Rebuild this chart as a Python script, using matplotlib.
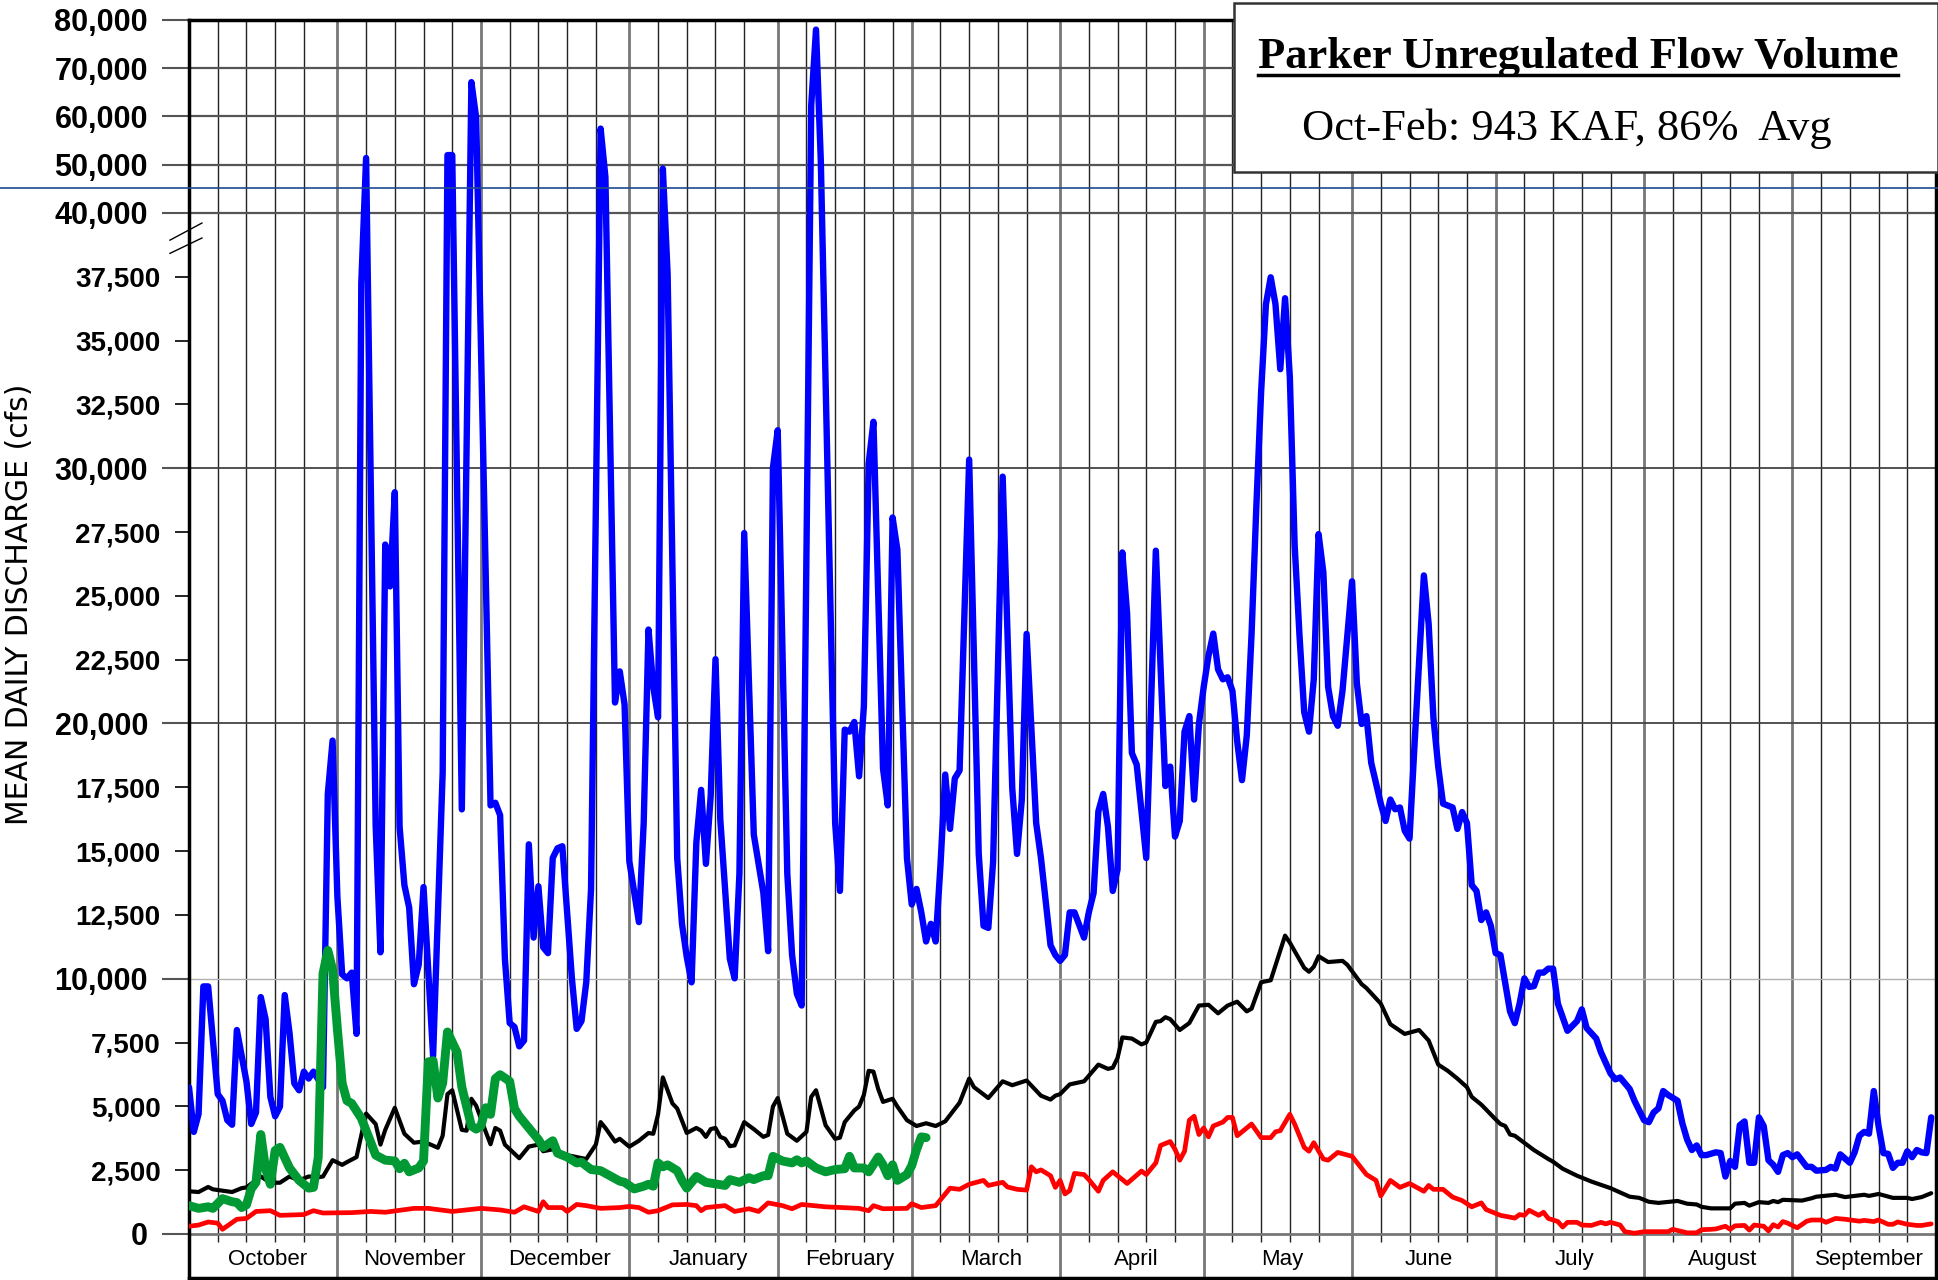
import numpy as np
import matplotlib
matplotlib.use('Agg')
import matplotlib.pyplot as plt
from matplotlib import font_manager
from matplotlib.lines import Line2D
from matplotlib.patches import Rectangle
from matplotlib.ticker import FixedLocator, FuncFormatter

W, H, DPI = 1938, 1280, 100

# ---- data (day of water year, mean daily cfs) ----
months = ['October', 'November', 'December', 'January', 'February', 'March',
          'April', 'May', 'June', 'July', 'August', 'September']
month_len = [31, 30, 31, 31, 28, 31, 30, 31, 30, 31, 31, 30]

max_pts = [(0, 5750), (1, 4000), (2, 4700), (3, 9700), (4, 9700), (6, 5480), (7, 5220), (8, 4460),
           (9, 4280), (10, 7990), (12, 5980), (13, 4310), (14, 4760), (15, 9280), (16, 8420), (17, 5370),
           (18, 4610), (19, 4990), (20, 9360), (21, 7880), (22, 5900), (23, 5630), (24, 6360), (25, 6090),
           (26, 6360), (28, 5750), (29, 17240), (30, 19330), (31, 13210), (32, 10170), (33, 10015),
           (34, 10240), (35, 7840), (36, 37260), (37, 51390), (39, 16000), (40, 11035), (41, 27010),
           (42, 25370), (43, 29060), (44, 15950), (45, 13670), (46, 12785), (47, 9786), (48, 10550),
           (49, 13590), (51, 6970), (53, 18080), (54, 52000), (55, 52000), (57, 16635), (59, 67120),
           (60, 59690), (63, 16790), (64, 16894), (65, 16407), (66, 10776), (67, 8264), (68, 8112),
           (69, 7351), (70, 7580), (71, 15266), (72, 11613), (73, 13622), (74, 11232), (75, 11004),
           (76, 14733), (77, 15113), (78, 15190), (80, 10015), (81, 8036), (82, 8341), (83, 9863),
           (84, 13515), (86, 57490), (87, 47450), (89, 20821), (90, 22040), (91, 20745), (92, 14600),
           (94, 12220), (95, 16100), (96, 23680), (97, 21430), (98, 20240), (99, 49200), (100, 37590),
           (102, 14730), (103, 12150), (104, 10850), (105, 9860), (106, 15340), (107, 17400),
           (108, 14500), (109, 17170), (110, 22520), (111, 16250), (113, 10780), (114, 10015),
           (115, 14120), (116, 27460), (118, 15650), (120, 13360), (121, 11080), (122, 30010),
           (123, 31490), (125, 14120), (126, 10930), (127, 9410), (128, 8950), (130, 62300),
           (131, 78010), (132, 50940), (135, 16100), (136, 13440), (137, 19760), (138, 19680),
           (139, 20060), (140, 17930), (141, 20670), (142, 30180), (143, 31820), (145, 18230),
           (146, 16790), (147, 28070), (148, 26800), (150, 14730), (151, 12910), (152, 13520),
           (153, 12600), (154, 11460), (155, 12150), (156, 11460), (157, 14430), (158, 18000),
           (159, 15870), (160, 17850), (161, 18160), (163, 30340), (165, 14890), (166, 12070),
           (167, 11990), (168, 14580), (170, 29670), (172, 17470), (173, 14890), (174, 17020),
           (175, 23510), (177, 16100), (178, 14730), (180, 11310), (181, 10930), (182, 10700),
           (183, 10930), (184, 12600), (185, 12600), (187, 11610), (188, 12600), (189, 13360),
           (190, 16560), (191, 17240), (192, 15950), (193, 13440), (194, 14280), (195, 26700),
           (196, 24300), (197, 18840), (198, 18390), (200, 14730), (202, 26770), (204, 17550),
           (205, 18310), (206, 15570), (207, 16180), (208, 19680), (209, 20290), (210, 17020),
           (211, 19980), (212, 21430), (213, 22650), (214, 23520), (215, 22120), (216, 21730),
           (217, 21810), (218, 21280), (219, 19300), (220, 17780), (221, 19530), (222, 23500),
           (223, 28500), (224, 33000), (225, 36420), (226, 37480), (227, 36420), (228, 33880),
           (229, 36660), (230, 33560), (231, 27000), (232, 23500), (233, 20440), (234, 19680),
           (235, 21730), (236, 27420), (237, 25920), (238, 21430), (239, 20290), (240, 19910),
           (241, 21280), (243, 25570), (244, 21580), (245, 19980), (246, 20290), (247, 18460),
           (249, 16860), (250, 16180), (251, 17020), (252, 16640), (253, 16710), (254, 15800),
           (255, 15490), (256, 19000), (258, 25800), (259, 23900), (260, 20210), (261, 18310),
           (262, 16860), (264, 16710), (265, 15870), (266, 16530), (267, 16100), (268, 13670),
           (269, 13440), (270, 12300), (271, 12600), (272, 12070), (273, 11000), (274, 10930),
           (276, 8720), (277, 8260), (278, 9025), (279, 10015), (280, 9680), (281, 9710),
           (282, 10240), (283, 10240), (284, 10395), (285, 10395), (286, 9025), (288, 7960),
           (290, 8340), (291, 8800), (292, 8070), (294, 7660), (295, 7120), (297, 6290), (298, 6060),
           (299, 6130), (301, 5680), (302, 5220), (304, 4460), (305, 4380), (306, 4760), (307, 4920),
           (308, 5600), (309, 5450), (311, 5220), (312, 4340), (313, 3700), (314, 3290), (315, 3470),
           (316, 3090), (317, 3090), (319, 3200), (320, 3170), (321, 2250), (322, 2860), (323, 2630),
           (324, 4260), (325, 4410), (326, 2790), (327, 2790), (328, 4570), (329, 4230), (330, 2890),
           (331, 2710), (332, 2435), (333, 3090), (334, 3170), (335, 3010), (336, 3120), (338, 2630),
           (339, 2630), (340, 2480), (342, 2510), (343, 2630), (344, 2560), (345, 3120), (347, 2790),
           (348, 3200), (349, 3850), (350, 4000), (351, 3930), (352, 5600), (353, 4230), (354, 3170),
           (355, 3140), (356, 2590), (357, 2790), (358, 2790), (359, 3240), (360, 3010), (361, 3290),
           (362, 3200), (363, 3170), (364, 4570)]

avg_pts = [(0, 1674), (2, 1644), (4, 1842), (5, 1750), (9, 1644), (11, 1796), (12, 1826), (15, 2253),
           (17, 2009), (19, 2009), (21, 2253), (23, 2100), (25, 2253), (27, 2222), (28, 2253),
           (30, 2892), (32, 2709), (33, 2816), (35, 3014), (37, 4718), (39, 4307), (40, 3501),
           (41, 4079), (43, 4946), (45, 3927), (47, 3577), (49, 3622), (52, 3379), (53, 3850),
           (54, 5479), (55, 5631), (57, 4079), (58, 4048), (59, 5297), (60, 5023), (62, 4003),
           (63, 3516), (64, 4155), (65, 4048), (66, 3501), (69, 2968), (71, 3425), (73, 3501),
           (74, 3242), (76, 3318), (79, 3090), (83, 2937), (85, 3501), (86, 4383), (87, 4155),
           (89, 3622), (90, 3729), (92, 3420), (94, 3653), (96, 3957), (97, 3927), (98, 4688),
           (99, 6134), (101, 5114), (102, 4916), (104, 3957), (106, 4155), (107, 4048), (108, 3805),
           (109, 4109), (110, 4155), (111, 3805), (112, 3729), (113, 3440), (114, 3470), (116, 4383),
           (118, 4109), (120, 3805), (121, 3881), (122, 4992), (123, 5327), (125, 3927), (127, 3653),
           (129, 4003), (130, 5373), (131, 5631), (133, 4261), (135, 3729), (136, 3775), (137, 4383),
           (139, 4840), (140, 4992), (141, 5449), (142, 6392), (143, 6362), (144, 5677), (145, 5175),
           (147, 5297), (148, 4992), (150, 4459), (152, 4231), (154, 4338), (156, 4231), (158, 4414),
           (161, 5144), (163, 6088), (164, 5753), (167, 5327), (170, 5981), (172, 5829), (175, 6012),
           (178, 5418), (180, 5266), (181, 5418), (182, 5479), (184, 5860), (187, 5981), (190, 6636),
           (192, 6468), (193, 6514), (194, 6895), (195, 7701), (197, 7656), (199, 7428), (200, 7504),
           (202, 8310), (203, 8341), (204, 8493), (205, 8417), (207, 7991), (209, 8265), (211, 8949),
           (213, 8980), (215, 8645), (217, 8949), (219, 9101), (221, 8721), (222, 8828), (224, 9863),
           (226, 9939), (229, 11689), (230, 11415), (233, 10426), (234, 10274), (235, 10471),
           (236, 10882), (238, 10654), (241, 10700), (242, 10548), (245, 9787), (246, 9634),
           (249, 9025), (251, 8219), (254, 7838), (257, 7991), (259, 7580), (261, 6636), (263, 6392),
           (265, 6088), (267, 5753), (268, 5373), (270, 5068), (273, 4490), (274, 4307), (275, 4231),
           (276, 3896), (277, 3850), (280, 3425), (281, 3288), (284, 2937), (285, 2831), (287, 2557),
           (290, 2283), (293, 2055), (297, 1796), (301, 1461), (303, 1415), (305, 1263), (307, 1218),
           (311, 1294), (313, 1187), (315, 1157), (316, 1065), (318, 1004), (322, 1004), (323, 1187),
           (325, 1218), (326, 1111), (328, 1248), (330, 1218), (331, 1294), (332, 1248), (333, 1339),
           (337, 1309), (339, 1400), (340, 1461), (344, 1537), (346, 1446), (350, 1537), (351, 1492),
           (353, 1568), (356, 1415), (359, 1415), (360, 1370), (362, 1446), (364, 1598)]

min_pts = [(0, 304), (2, 350), (4, 470), (6, 426), (7, 183), (10, 578), (12, 609), (14, 883), (17, 913),
           (19, 731), (24, 761), (26, 913), (28, 822), (34, 837), (38, 883), (41, 852), (47, 1004),
           (50, 1004), (55, 883), (58, 943), (61, 1004), (65, 943), (68, 852), (70, 1065), (73, 883),
           (74, 1263), (75, 1035), (78, 1035), (79, 883), (81, 1157), (83, 1111), (86, 1004),
           (90, 1035), (92, 1080), (94, 1035), (96, 852), (98, 913), (101, 1141), (104, 1157),
           (106, 1111), (107, 913), (108, 1035), (112, 1111), (114, 883), (117, 989), (119, 883),
           (121, 1218), (124, 1111), (126, 989), (128, 1157), (133, 1065), (140, 1004), (142, 913),
           (143, 1111), (145, 989), (150, 1004), (151, 1187), (153, 1035), (156, 1111), (159, 1796),
           (161, 1750), (163, 1948), (166, 2100), (167, 1902), (170, 2024), (171, 1842), (173, 1750),
           (175, 1720), (176, 2633), (177, 2435), (178, 2511), (180, 2283), (181, 1826), (182, 2100),
           (183, 1568), (184, 1700), (185, 2374), (187, 2329), (188, 2131), (190, 1674), (191, 2100),
           (193, 2435), (196, 1979), (199, 2466), (200, 2329), (202, 2785), (203, 3470), (205, 3622),
           (206, 3318), (207, 2892), (208, 3242), (209, 4459), (210, 4612), (211, 3896), (212, 4155),
           (213, 3805), (214, 4231), (216, 4383), (217, 4566), (218, 4566), (219, 3850), (222, 4307),
           (224, 3775), (226, 3775), (227, 4003), (228, 4048), (230, 4688), (231, 4307), (233, 3394),
           (234, 3242), (235, 3577), (237, 2937), (238, 2892), (240, 3196), (243, 3044), (246, 2329),
           (248, 2100), (249, 1492), (251, 2100), (253, 1826), (255, 1979), (258, 1674), (259, 1902),
           (260, 1750), (262, 1750), (264, 1446), (266, 1309), (268, 1065), (270, 1218), (271, 959),
           (274, 731), (277, 624), (278, 761), (279, 731), (280, 928), (282, 731), (283, 852),
           (284, 609), (286, 487), (287, 274), (288, 457), (290, 457), (291, 350), (293, 335),
           (295, 457), (296, 396), (297, 457), (299, 350), (300, 91), (302, 30), (304, 91), (309, 91),
           (310, 183), (313, 46), (315, 46), (316, 167), (318, 183), (319, 198), (321, 304), (322, 183),
           (323, 320), (325, 335), (326, 152), (327, 350), (329, 304), (330, 122), (331, 365),
           (332, 274), (333, 487), (334, 426), (336, 243), (338, 502), (339, 548), (341, 548),
           (342, 457), (344, 609), (346, 578), (349, 502), (350, 533), (352, 487), (353, 548),
           (355, 380), (356, 380), (357, 472), (359, 380), (361, 335), (362, 335), (364, 396)]

cur_pts = [(0, 1111), (2, 1004), (4, 1065), (5, 1004), (7, 1385), (9, 1263), (10, 1233), (11, 1035),
           (12, 1141), (13, 1766), (14, 2024), (15, 3896), (16, 2557), (17, 1948), (18, 3272),
           (19, 3394), (21, 2587), (23, 2100), (25, 1796), (26, 1826), (27, 3000), (28, 10197),
           (29, 11111), (30, 10350), (31, 8036), (32, 5905), (33, 5221), (34, 5114), (36, 4536),
           (38, 3577), (39, 3090), (41, 2892), (43, 2861), (44, 2557), (45, 2770), (46, 2435),
           (48, 2587), (49, 2861), (50, 6742), (51, 6788), (52, 5327), (53, 5905), (54, 7914),
           (56, 7123), (57, 5753), (59, 4231), (60, 4109), (61, 4231), (62, 4946), (63, 4688),
           (64, 6088), (65, 6240), (67, 5981), (68, 4916), (69, 4612), (71, 4155), (73, 3699),
           (74, 3394), (76, 3653), (77, 3166), (79, 3014), (81, 2785), (82, 2816), (84, 2527),
           (86, 2481), (90, 2070), (91, 2024), (93, 1766), (95, 1872), (96, 1948), (97, 1872),
           (98, 2785), (99, 2633), (100, 2709), (102, 2481), (103, 2100), (104, 1796), (106, 2253),
           (108, 2024), (112, 1902), (113, 2131), (115, 2024), (117, 2207), (118, 2131), (120, 2283),
           (121, 2283), (122, 3044), (124, 2861), (126, 2785), (127, 2907), (128, 2785), (129, 2861),
           (131, 2587), (133, 2435), (135, 2527), (137, 2557), (138, 3044), (139, 2587), (141, 2587),
           (142, 2435), (144, 3014), (145, 2709), (146, 2283), (147, 2709), (148, 2100), (150, 2329),
           (151, 2679), (152, 3300), (153, 3805), (154, 3775)]

major_ticks = [0, 10000, 20000, 30000, 40000, 50000, 60000, 70000, 80000]
minor_ticks = [2500, 5000, 7500, 12500, 15000, 17500, 22500, 25000, 27500, 32500, 35000, 37500]

title = 'Parker Unregulated Flow Volume'
subtitle = 'Oct-Feb: 943 KAF, 86%  Avg'
ylabel = 'MEAN DAILY DISCHARGE (cfs)'


def has_font(name):
    try:
        font_manager.findfont(font_manager.FontProperties(family=name), fallback_to_default=False)
        return True
    except ValueError:
        return False


NARROW = has_font('Liberation Sans Narrow')
SANS = 'Liberation Sans'
SERIF = 'Liberation Serif'

# broken y axis: everything above 40,000 is squeezed
BREAK = 40000
SQUEEZE = 0.189


def fwd(v):
    v = np.asarray(v, dtype=float)
    return np.where(v <= BREAK, v, BREAK + (v - BREAK) * SQUEEZE)


def inv(u):
    u = np.asarray(u, dtype=float)
    return np.where(u <= BREAK, u, BREAK + (u - BREAK) / SQUEEZE)


fig = plt.figure(figsize=(W / DPI, H / DPI), dpi=DPI)
ax = fig.add_axes([189 / W, 2 / H, 1747 / W, 1258 / H])
ax.set_yscale('function', functions=(fwd, inv))
YMIN, YMAX = -1724, 80000
ax.set_xlim(0, 365)
ax.set_ylim(YMIN, YMAX)

# grid
starts = np.cumsum([0] + month_len)
six_day = [s + k for s in starts[:-1] for k in (6, 12, 18, 24)]
ax.vlines(six_day, -320, YMAX, color='#222222', lw=1.0, zorder=1)
ax.vlines(starts[1:-1], YMIN, YMAX, color='#777777', lw=2.0, zorder=1)
ax.hlines([0], 0, 365, color='#777777', lw=2.0, zorder=1)
ax.hlines([10000], 0, 365, color='#b0b0b0', lw=1.0, zorder=1)
ax.hlines([20000, 30000], 0, 365, color='#444444', lw=1.3, zorder=1)
ax.hlines([40000, 50000, 60000, 70000], 0, 365, color='#555555', lw=1.6, zorder=1)

# series
for pts, col, lw, z in [(max_pts, '#0000ff', 4.6, 3), (avg_pts, 'black', 3.0, 4),
                        (min_pts, '#ff0000', 3.4, 5), (cur_pts, '#009933', 6.4, 6)]:
    d, v = zip(*pts)
    ax.plot(d, v, color=col, lw=lw, zorder=z, solid_joinstyle='round', solid_capstyle='round')

# ticks
ax.set_xticks([])
ax.yaxis.set_major_locator(FixedLocator(major_ticks))
ax.yaxis.set_minor_locator(FixedLocator(minor_ticks))
fmt = FuncFormatter(lambda v, p: f'{v:,.0f}')
ax.yaxis.set_major_formatter(fmt)
ax.yaxis.set_minor_formatter(fmt)
ax.tick_params(axis='y', which='major', length=19.5, width=1.5, color='#555555', pad=10)
ax.tick_params(axis='y', which='minor', length=10, width=1.2, color='black', pad=10.5)
for lab in ax.get_yticklabels():
    lab.set_fontfamily(SANS)
    lab.set_fontweight('bold')
    lab.set_fontsize(22)
for lab in ax.get_yticklabels(minor=True):
    lab.set_fontfamily('Liberation Sans Narrow' if NARROW else SANS)
    lab.set_fontweight('bold')
    lab.set_fontsize(24 if NARROW else 20)

for sp in ax.spines.values():
    sp.set_linewidth(2.5)
    sp.set_color('black')

# month names under the zero line
for name, s, n in zip(months, starts[:-1], month_len):
    ax.text(s + n / 2 + 1, -980, name, ha='center', va='center',
            family='Liberation Sans Narrow' if NARROW else SANS,
            fontsize=20 if NARROW else 16)

# break marks on the y axis
for y0, y1 in [(0.825, 0.8386), (0.8145, 0.8267)]:
    ax.plot([-0.0109, 0.0074], [y0, y1], transform=ax.transAxes, color='black',
            lw=1.0, clip_on=False, zorder=10)

fig.text(20 / W, 1 - 604 / H, ylabel, rotation=90, ha='center', va='center',
         family=['DejaVu Sans'], fontsize=21.5)

# stray horizontal rule across the page
fig.add_artist(Line2D([0, 1], [1 - 188 / H, 1 - 188 / H], transform=fig.transFigure,
                      color='#1f4a8f', lw=1.2, zorder=5))

# title box
fig.add_artist(Rectangle((1234 / W, 1 - 172 / H), (W - 1234) / W, 169 / H,
                         transform=fig.transFigure, facecolor='white',
                         edgecolor='#333333', lw=1.8, zorder=10))
t1 = fig.text(1578 / W, 1 - 68 / H, title, ha='center', va='baseline',
              family=SERIF, fontweight='bold', fontsize=32, zorder=11)
fig.text(1567 / W, 1 - 140 / H, subtitle, ha='center', va='baseline',
         family=SERIF, fontsize=32, zorder=11)

fig.canvas.draw()
bb = t1.get_window_extent()
fig.add_artist(Line2D([bb.x0 / W, bb.x1 / W], [1 - 75 / H, 1 - 75 / H], transform=fig.transFigure,
                      color='black', lw=2.5, zorder=11))

fig.savefig('out.png', dpi=DPI)
